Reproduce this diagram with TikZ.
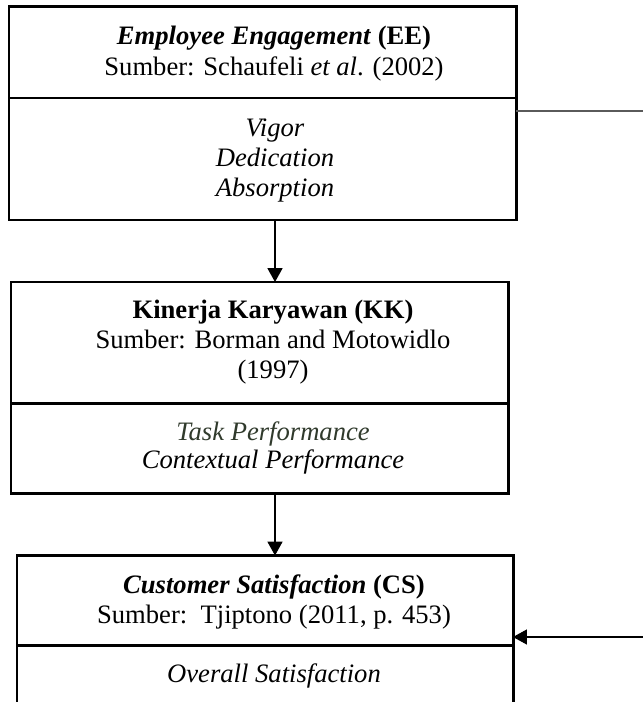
\documentclass[tikz,border=0pt]{standalone}
\usepackage{fontspec}
\setmainfont{Liberation Serif}
\usetikzlibrary{arrows.meta}
\definecolor{taskcol}{RGB}{48,58,44}
\definecolor{sidegray}{RGB}{90,90,90}
\begin{document}
\begin{tikzpicture}[x=0.451pt,y=-0.451pt,
  sec/.style={draw,line width=1.35pt,inner sep=0pt,outer sep=0pt},
  txt/.style={anchor=base,font=\fontsize{12pt}{13.8pt}\selectfont,inner sep=0pt},
  itxt/.style={txt,font=\fontsize{12pt}{13.8pt}\selectfont\itshape},
  arr/.style={line width=0.7pt,-{Triangle[length=6.3pt,width=6.8pt]}},
  sidel/.style={line width=0.55pt,draw=sidegray},
  sidearr/.style={line width=0.5pt,-{Triangle[length=6.3pt,width=6.8pt]}}]
\clip (0,0) rectangle (643,702);
\fill[white] (0,0) rectangle (643,702);
% boxes
\node[sec,minimum width={507*0.451pt},minimum height={91*0.451pt}] (ee1) at (262.5,52.5) {};
\node[sec,minimum width={507*0.451pt},minimum height={122*0.451pt}] (ee2) at (262.5,159) {};
\node[sec,minimum width={497*0.451pt},minimum height={121*0.451pt}] (kk1) at (259.5,342.5) {};
\node[sec,minimum width={497*0.451pt},minimum height={90*0.451pt}] (kk2) at (259.5,448.5) {};
\node[sec,minimum width={496*0.451pt},minimum height={90*0.451pt}] (cs1) at (265,600.5) {};
\node[sec,minimum width={496*0.451pt},minimum height={115*0.451pt}] (cs2) at (265,703) {};
% texts
\node[txt] (eet1) at (274,45) {\textbf{\textit{Employee Engagement}} \textbf{(EE)}};
\node[txt] (eet2) at (274,76) {Sumber: Schaufeli \textit{et al}. (2002)};
\node[itxt] (eeb1) at (275,137) {Vigor};
\node[itxt] (eeb2) at (275,167) {Dedication};
\node[itxt] (eeb3) at (275,197) {Absorption};
\node[txt] (kkt1) at (273,318) {\textbf{Kinerja Karyawan (KK)}};
\node[txt] (kkt2) at (273,348) {Sumber: Borman and Motowidlo};
\node[txt] (kkt3) at (273,378) {(1997)};
\node[itxt,text=taskcol] (kkb1) at (273,440) {Task Performance};
\node[itxt] (kkb2) at (273,468) {Contextual Performance};
\node[txt] (cst1) at (274,593) {\textbf{\textit{Customer Satisfaction}} \textbf{(CS)}};
\node[txt] (cst2) at (274,623) {Sumber:\ \ Tjiptono (2011, p. 453)};
\node[itxt] (csb1) at (274,682) {Overall Satisfaction};
% connectors
\draw[arr] (ee2.south -| eeb1.base) -- (kk1.north -| eeb1.base);
\draw[arr] (kk2.south -| eeb1.base) -- (cs1.north -| eeb1.base);
\coordinate (r1) at (643,111);
\coordinate (r2) at (643,637);
\draw[sidel] (ee2.east |- r1) -- (r1);
\draw[sidearr] (r2) -- (cs1.east |- r2);
\end{tikzpicture}
\end{document}
